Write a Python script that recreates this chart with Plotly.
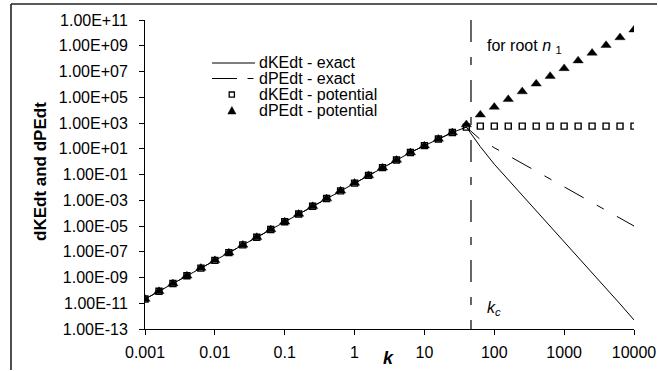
import plotly.graph_objects as go

# ---------------- data ----------------
k_left = [0.001, 0.001585, 0.002512, 0.003981, 0.00631, 0.01, 0.01585, 0.02512,
          0.03981, 0.0631, 0.1, 0.1585, 0.2512, 0.3981, 0.631, 1, 1.585, 2.512,
          3.981, 6.31, 10, 15.85, 25.12, 39.81]
k_right = [63.1, 100, 158.5, 251.2, 398.1, 631, 1000, 1585, 2512, 3981, 6310, 10000]

y_left = [2.14e-11, 8.51e-11, 3.39e-10, 1.35e-9, 5.37e-9, 2.14e-8, 8.51e-8, 3.39e-7,
          1.35e-6, 5.37e-6, 2.14e-5, 8.51e-5, 3.39e-4, 1.35e-3, 5.37e-3, 2.14e-2,
          8.51e-2, 3.39e-1, 1.35, 5.13, 17.4, 57.5, 182, 479]

ke_exact_right = [14.5, 0.631, 0.0398, 2.51e-3, 1.55e-4, 9.77e-6, 6.03e-7, 3.80e-8,
                  2.51e-9, 1.58e-10, 8.91e-12, 5.01e-13]
pe_exact_right = [52.5, 12.0, 2.95, 0.724, 0.178, 0.0447, 0.011, 2.69e-3, 6.61e-4,
                  1.62e-4, 3.98e-5, 1.0e-5]
ke_pot_right = [575, 575, 575, 575, 575, 575, 575, 575, 575, 575, 575, 575]
pe_pot_right = [4365, 17378, 69183, 2.75e5, 1.10e6, 4.37e6, 1.74e7, 6.92e7, 2.75e8,
                1.10e9, 4.37e9, 1.74e10]
pe_pot_last_left = 760  # triangle sits slightly above the square at the last point before k_c
k_c = 46.4

x_tickvals = [0.001, 0.01, 0.1, 1, 10, 100, 1000, 10000]
x_ticktext = ["0.001", "0.01", "0.1", "1", "10", "100", "1000", "10000"]
y_tickvals = [1e11, 1e9, 1e7, 1e5, 1e3, 1e1, 1e-1, 1e-3, 1e-5, 1e-7, 1e-9, 1e-11, 1e-13]
y_ticktext = ["1.00E+11", "1.00E+09", "1.00E+07", "1.00E+05", "1.00E+03", "1.00E+01",
              "1.00E-01", "1.00E-03", "1.00E-05", "1.00E-07", "1.00E-09", "1.00E-11",
              "1.00E-13"]
legend_labels = ["dKEdt - exact", "dPEdt - exact", "dKEdt - potential", "dPEdt - potential"]

FONT = "Liberation Sans, Arial, sans-serif"
DASH = "22px,15px,8px,15px"

k_all = k_left + k_right
fig = go.Figure()

# exact curves
fig.add_trace(go.Scatter(x=k_all, y=y_left + pe_exact_right, mode="lines",
                         line=dict(color="black", width=1, dash=DASH),
                         name=legend_labels[1], showlegend=False))
fig.add_trace(go.Scatter(x=k_all, y=y_left + ke_exact_right, mode="lines",
                         line=dict(color="black", width=1),
                         name=legend_labels[0], showlegend=False))
# k_c vertical line
fig.add_trace(go.Scatter(x=[k_c, k_c], y=[1e11, 1e-13], mode="lines",
                         line=dict(color="black", width=1.2, dash=DASH),
                         showlegend=False, hoverinfo="skip"))
# potential markers
fig.add_trace(go.Scatter(x=k_all, y=y_left[:-1] + [pe_pot_last_left] + pe_pot_right,
                         mode="markers",
                         marker=dict(symbol="triangle-up", size=9, color="black",
                                     line=dict(width=0.4, color="black")),
                         name=legend_labels[3], showlegend=False))
fig.add_trace(go.Scatter(x=k_all, y=y_left + ke_pot_right, mode="markers",
                         marker=dict(symbol="square-open", size=6, color="black",
                                     line=dict(width=1.4)),
                         name=legend_labels[2], showlegend=False))

W, H = 658, 371
L, R, T, B = 145, 24, 20, 42
pw, ph = W - L - R, H - T - B


def px(x):
    return (x - L) / pw


def py(y):
    return (H - B - y) / ph


shapes = []
# outer border (left and top edges visible), kept inside the figure
shapes.append(dict(type="line", xref="paper", yref="paper", x0=px(11), x1=px(11),
                   y0=py(4), y1=py(H - 1), line=dict(color="#222", width=1.6)))
shapes.append(dict(type="line", xref="paper", yref="paper", x0=px(11), x1=px(W - 1),
                   y0=py(4), y1=py(4), line=dict(color="#222", width=1.6)))
# manual legend keys
shapes.append(dict(type="line", xref="paper", yref="paper", x0=px(212), x1=px(255),
                   y0=py(63), y1=py(63), line=dict(color="black", width=1)))
shapes.append(dict(type="line", xref="paper", yref="paper", x0=px(212), x1=px(237),
                   y0=py(78.5), y1=py(78.5), line=dict(color="black", width=1)))
shapes.append(dict(type="line", xref="paper", yref="paper", x0=px(247.5), x1=px(253.5),
                   y0=py(78.5), y1=py(78.5), line=dict(color="black", width=1)))
shapes.append(dict(type="rect", xref="paper", yref="paper", x0=px(229.2), x1=px(234.4),
                   y0=py(97.2), y1=py(92), line=dict(color="black", width=1.3)))
shapes.append(dict(type="path", xref="paper", yref="paper",
                   path="M {},{} L {},{} L {},{} Z".format(px(227.8), py(114), px(236), py(114),
                                                             px(231.9), py(106.5)),
                   fillcolor="black", line=dict(color="black", width=0.5)))

annotations = []
for i, (lab, yy) in enumerate(zip(legend_labels, [62.5, 78, 94.5, 110.5])):
    annotations.append(dict(xref="paper", yref="paper", x=px(257), y=py(yy),
                            xanchor="left", yanchor="middle", showarrow=False,
                            text=lab, font=dict(family=FONT, size=16, color="black")))
annotations.append(dict(xref="paper", yref="paper", x=px(485), y=py(46),
                        xanchor="left", yanchor="middle", showarrow=False,
                        text="for root <i>n</i> <sub>1</sub>",
                        font=dict(family=FONT, size=16, color="black")))
annotations.append(dict(xref="paper", yref="paper", x=px(485), y=py(308),
                        xanchor="left", yanchor="middle", showarrow=False,
                        text="<i>k</i><sub><i>c</i></sub>",
                        font=dict(family=FONT, size=16, color="black")))
annotations.append(dict(xref="paper", yref="paper", x=px(388), y=py(358),
                        xanchor="center", yanchor="middle", showarrow=False,
                        text="<b><i>k</i></b>",
                        font=dict(family=FONT, size=18, color="black")))
annotations.append(dict(xref="paper", yref="paper", x=px(40), y=py(172),
                        xanchor="center", yanchor="middle", showarrow=False,
                        textangle=-90, text="<b>dKEdt and dPEdt</b>",
                        font=dict(family=FONT, size=17, color="black")))

fig.update_layout(
    width=W, height=H, autosize=False,
    margin=dict(l=L, r=R, t=T, b=B, pad=0, autoexpand=False),
    paper_bgcolor="white", plot_bgcolor="white",
    showlegend=False,
    shapes=shapes, annotations=annotations,
    font=dict(family=FONT, size=16, color="black"),
    xaxis=dict(type="log", range=[-3, 4], showgrid=False, zeroline=False,
               showline=True, linecolor="black", linewidth=1, automargin=False,
               ticks="outside", ticklen=5, tickcolor="black", tickwidth=1,
               tickvals=x_tickvals, ticktext=x_ticktext,
               ticklabelstandoff=4,
               tickfont=dict(family=FONT, size=16, color="black")),
    yaxis=dict(type="log", range=[-13, 11], showgrid=False, zeroline=False,
               showline=True, linecolor="black", linewidth=1, automargin=False,
               ticks="outside", ticklen=5, tickcolor="black", tickwidth=1,
               tickvals=y_tickvals, ticktext=y_ticktext,
               ticklabelstandoff=8,
               tickfont=dict(family=FONT, size=16, color="black")),
)

fig.write_html("out.html", config={"responsive": False, "displayModeBar": False},
               post_script="document.documentElement.style.overflow='hidden';"
                           "document.body.style.margin='0';document.body.style.overflow='hidden';")
